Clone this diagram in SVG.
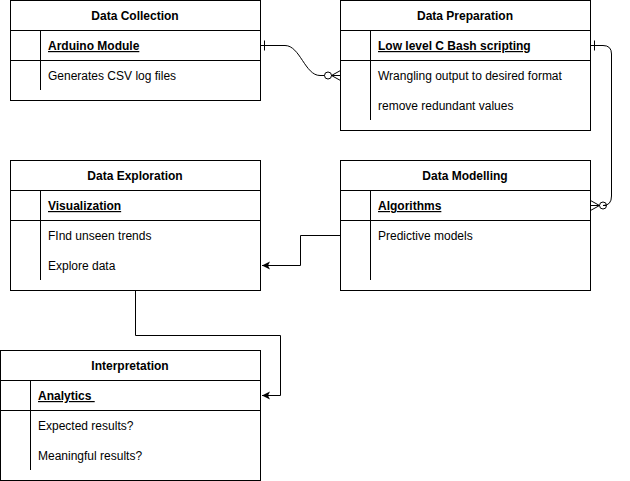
<svg xmlns="http://www.w3.org/2000/svg" width="630" height="481" viewBox="0 0 630 481">
<style>
.box{fill:#fff;stroke:#000;stroke-width:1}
.ln{stroke:#000;stroke-width:1;fill:none}
.h{font-family:"Liberation Sans",Arial,sans-serif;font-size:12px;font-weight:bold;text-anchor:middle}
.k{font-family:"Liberation Sans",Arial,sans-serif;font-size:12px;font-weight:bold;text-decoration:underline}
.t{font-family:"Liberation Sans",Arial,sans-serif;font-size:12px}
</style>
<defs>
<marker id="arr" markerWidth="10" markerHeight="10" refX="9" refY="5" orient="auto" markerUnits="userSpaceOnUse">
<path d="M1,1 L9,5 L1,9 L3,5 Z" fill="#000"/>
</marker>
</defs>
<rect width="630" height="481" fill="#fff"/>
<g id="data-collection">
<rect class="box" x="10.5" y="0.5" width="250" height="100"/>
<line class="ln" x1="10.5" y1="30.5" x2="260.5" y2="30.5"/>
<line class="ln" x1="10.5" y1="60.5" x2="260.5" y2="60.5"/>
<line class="ln" x1="40.5" y1="30.5" x2="40.5" y2="90"/>
<text class="h" x="135" y="20">Data Collection</text>
<text class="k" x="48" y="50">Arduino Module</text>
<text class="t" x="48" y="80">Generates CSV log files</text>
</g>
<g id="data-preparation">
<rect class="box" x="340.5" y="0.5" width="250" height="130"/>
<line class="ln" x1="340.5" y1="30.5" x2="590.5" y2="30.5"/>
<line class="ln" x1="340.5" y1="60.5" x2="590.5" y2="60.5"/>
<line class="ln" x1="370.5" y1="30.5" x2="370.5" y2="120"/>
<text class="h" x="465" y="20">Data Preparation</text>
<text class="k" x="378" y="50">Low level C Bash scripting</text>
<text class="t" x="378" y="80">Wrangling output to desired format</text>
<text class="t" x="378" y="110">remove redundant values</text>
</g>
<g id="data-exploration">
<rect class="box" x="10.5" y="160.5" width="250" height="130"/>
<line class="ln" x1="10.5" y1="190.5" x2="260.5" y2="190.5"/>
<line class="ln" x1="10.5" y1="220.5" x2="260.5" y2="220.5"/>
<line class="ln" x1="40.5" y1="190.5" x2="40.5" y2="280"/>
<text class="h" x="135" y="180">Data Exploration</text>
<text class="k" x="48" y="210">Visualization</text>
<text class="t" x="48" y="240">FInd unseen trends</text>
<text class="t" x="48" y="270">Explore data</text>
</g>
<g id="data-modelling">
<rect class="box" x="340.5" y="160.5" width="250" height="130"/>
<line class="ln" x1="340.5" y1="190.5" x2="590.5" y2="190.5"/>
<line class="ln" x1="340.5" y1="220.5" x2="590.5" y2="220.5"/>
<line class="ln" x1="370.5" y1="190.5" x2="370.5" y2="280"/>
<text class="h" x="465" y="180">Data Modelling</text>
<text class="k" x="378" y="210">Algorithms</text>
<text class="t" x="378" y="240">Predictive models</text>
</g>
<g id="interpretation">
<rect class="box" x="0.5" y="350.5" width="260" height="130"/>
<line class="ln" x1="0.5" y1="380.5" x2="260.5" y2="380.5"/>
<line class="ln" x1="0.5" y1="410.5" x2="260.5" y2="410.5"/>
<line class="ln" x1="30.5" y1="380.5" x2="30.5" y2="470"/>
<text class="h" x="130" y="370">Interpretation</text>
<text class="k" x="38" y="400">Analytics&#160;</text>
<text class="t" x="38" y="430">Expected results?</text>
<text class="t" x="38" y="460">Meaningful results?</text>
</g>
<g id="connectors">
<path class="ln" d="M260.5,45.5 L285,45.5 C300,45.5 305,75.5 320,75.5 L324.5,75.5"/>
<line class="ln" x1="264.5" y1="40.5" x2="264.5" y2="50.5"/>
<circle class="ln" cx="328" cy="75.5" r="3.5"/>
<path class="ln" d="M340.5,70.5 L331.5,75.5 L340.5,80.5 M331.5,75.5 L340.5,75.5"/>
<path class="ln" d="M590.5,45.5 L603,45.5 Q611.5,45.5 611.5,54 L611.5,196 Q611.5,205.5 603,205.5 L606.5,205.5"/>
<line class="ln" x1="594.5" y1="40.5" x2="594.5" y2="50.5"/>
<circle class="ln" cx="603" cy="205.5" r="3.5"/>
<path class="ln" d="M590.5,200.5 L599.5,205.5 L590.5,210.5 M599.5,205.5 L590.5,205.5"/>
<path class="ln" d="M340.5,235.5 L300.5,235.5 L300.5,265.5 L262,265.5" marker-end="url(#arr)"/>
<path class="ln" d="M135.5,290.5 L135.5,335.5 L280.5,335.5 L280.5,395.5 L262,395.5" marker-end="url(#arr)"/>
</g>
</svg>
